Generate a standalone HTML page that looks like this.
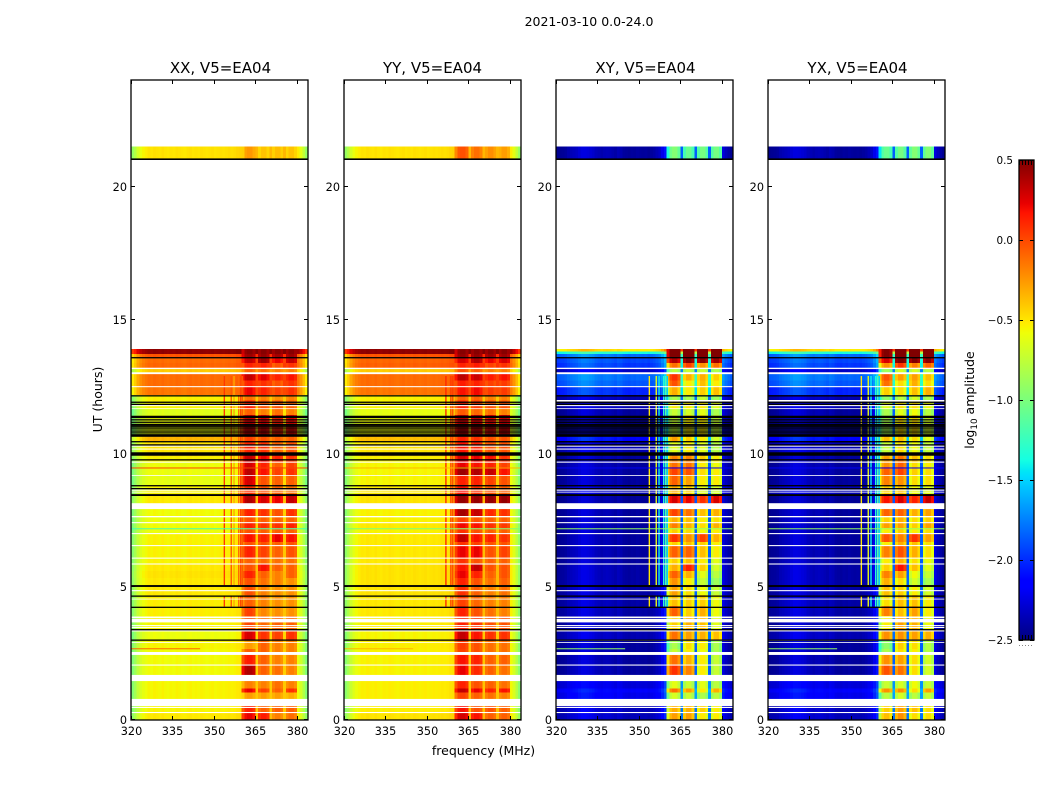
<!DOCTYPE html>
<html lang="en">
<head>
<meta charset="utf-8">
<title>2021-03-10 0.0-24.0 amplitude waterfall</title>
<style>
html,body{margin:0;padding:0;background:#fff;width:1050px;height:800px;overflow:hidden}
svg{display:block}
text{font-family:"DejaVu Sans","Liberation Sans",sans-serif;fill:#000}
</style>
</head>
<body>
<svg id="chart" xmlns="http://www.w3.org/2000/svg" width="1050" height="800" viewBox="0 0 1050 800">
  <defs><linearGradient id="jetGrad" x1="0" y1="1" x2="0" y2="0"></linearGradient></defs>
  <rect x="0" y="0" width="1050" height="800" fill="#fff"/>
  <text x="589" y="26" font-size="12.5" text-anchor="middle">2021-03-10 0.0-24.0</text>
  <text x="0" y="0" font-size="12.5" text-anchor="middle" transform="translate(102,399.5) rotate(-90)">UT (hours)</text>
  <text x="483.5" y="755" font-size="12.5" text-anchor="middle">frequency (MHz)</text>
  <text x="0" y="0" font-size="12.5" text-anchor="middle" transform="translate(974,400) rotate(-90)">log<tspan font-size="8.8" dy="3">10</tspan><tspan dy="-3"> amplitude</tspan></text>
  <g id="panels"></g>
  <g id="colorbar"></g>
</svg>
<script>
// ---------- chart data ----------
const panelTitles = ["XX, V5=EA04", "YY, V5=EA04", "XY, V5=EA04", "YX, V5=EA04"];
const xTickLabels = [320, 335, 350, 365, 380];
const yTickLabels = [0, 5, 10, 15, 20];
const colorbarTicks = [0.5, 0.0, -0.5, -1.0, -1.5, -2.0, -2.5];
const freqMin = 320, freqMax = 384, utMax = 24, colorMin = -2.5, colorMax = 0.5;
const channels = [320,321,322,323,324,325,326,327,328,329,330,331,332,333,334,335,336,337,338,339,340,341,342,343,344,345,346,347,348,349,350,351,352,353,354,355,356,357,358,359,360,361,362,363,364,365,366,367,368,369,370,371,372,373,374,375,376,377,378,379,380,381,382,383];
const subbandFirst = [360, 366, 371, 376];
const subbandLast = [364, 369, 374, 379];
// channel shape added to the block level (log10 amplitude)
const parallelShape = [-.4,-.3,-.18,-.1,-.05,-.02,.01,0,.02,.01,0,.02,0,-.01,.01,0,.02,.01,0,-.01,.01,.02,0,.01,0,.02,.01,0,.01,.02,0,.01,.02,.01,.02,.03,.02,.03,.05,.06,-.15,0,.03,.03,-.03,.15,-.03,.03,.03,-.03,.15,-.03,.03,.03,-.03,.15,-.03,.03,.03,-.03,-.02,-.12,-.25,-.4];
const crossShape = [-.06,-.05,-.04,-.02,.02,.04,.06,.08,.12,.15,.15,.14,.12,.1,.06,.04,.02,.04,.05,.04,.02,0,.04,.02,-.02,-.03,-.04,-.02,-.03,-.01,-.02,-.03,-.02,-.04,-.02,0,.04,.08,.18,.32,-.2,.1,.18,.18,.05,.55,.05,.18,.18,.05,.55,.05,.18,.18,.05,.55,.05,.18,.18,.05,.15,.06,0,-.05];
// top edge of every time block, UT hours, descending
const blockEdges = [21.51,21.06,13.91,13.81,13.72,13.57,13.38,13.16,12.97,12.74,12.48,12.18,11.99,11.69,11.43,10.64,10.46,10.04,9.89,9.67,9.48,9.18,8.81,8.47,8.13,7.91,7.61,7.42,7.20,7.01,6.67,6.52,6.07,5.85,5.59,5.32,5.06,4.69,4.27,3.90,3.37,3.00,2.66,2.44,2.05,1.69,1.46,1.19,1.04,.79,.52,.30,0];
// each row: [off-band, subband 1, subband 2, subband 3, subband 4]
const xxLevels = [[-.5,-.28,-.42,-.4,-.42],null,[.45,.45,.45,.45,.45],[.45,.45,.45,.45,.45],[-.05,.4,.42,.38,.4],[-.12,.3,.4,.2,.3],[-.1,.1,.1,-.05,.05],[-.42,-.1,-.15,-.2,-.2],[-.12,.3,.22,.1,.15],[-.12,.1,.05,-.05,.05],[-.15,.2,.1,0,.05],[-.55,-.15,-.2,-.25,-.2],[-.55,.1,-.05,-.05,-.1],[-.65,-.1,-.2,-.15,-.2],[-.6,.25,.2,.12,.18],[-.35,0,-.05,-.1,-.1],[-.5,.1,.05,-.1,-.05],[-.5,.3,.2,.1,.1],[-.55,.3,.2,.1,.05],[-.6,.25,.1,-.1,0],[-.6,.32,.15,0,.05],[-.62,.25,-.05,-.1,-.1],[-.55,.05,-.05,-.1,-.15],[-.52,.35,.25,.2,.3],[-.52,.35,.25,.2,.3],[-.58,.1,.05,-.05,.05],[-.6,-.05,-.1,-.1,-.1],[-.58,.1,.05,.05,.1],[-.6,-.05,-.1,-.1,-.1],[-.55,.15,.1,.2,.15],[-.55,-.05,-.05,-.1,-.05],[-.55,.1,0,-.1,-.05],[-.55,-.1,-.12,-.15,-.15],[-.52,-.05,.15,-.1,-.1],[-.5,.1,-.1,-.2,-.1],[-.52,-.05,-.15,-.2,-.25],[-.52,-.05,-.2,-.25,-.25],[-.54,-.1,-.2,-.25,-.25],[-.54,0,-.22,-.25,-.25],[-.56,-.02,-.12,-.1,-.1],[-.6,.25,.05,0,.05],[-.56,-.3,-.1,-.2,-.2],[-.58,-.1,-.1,-.2,-.2],[-.58,.12,-.1,-.2,-.2],[-.58,.35,-.1,-.15,-.2],[-.58,.35,-.1,-.15,-.2],[-.56,-.2,-.2,-.15,-.2],[-.56,.2,0,-.1,.05],[-.56,-.3,-.3,-.3,-.35],[-.56,-.3,-.3,-.3,-.35],[-.56,.1,-.1,-.1,-.1],[-.52,.2,.12,-.2,-.15]];
const yyLevels = [[-.5,-.05,-.15,-.25,-.3],null,[.45,.45,.45,.45,.45],[.45,.45,.45,.45,.45],[-.05,.42,.42,.4,.4],[-.1,.25,.35,.2,.25],[-.08,.1,.12,0,.05],[-.42,-.05,-.1,-.2,-.2],[-.12,.32,.28,.12,.15],[-.12,.12,.1,0,.02],[-.15,.15,.18,.02,.02],[-.55,-.1,-.1,-.2,-.2],[-.55,.1,.02,-.05,-.05],[-.62,-.08,-.12,-.15,-.2],[-.6,.3,.25,.18,.25],[-.38,.1,.05,-.05,-.05],[-.5,.15,.1,-.05,-.05],[-.5,.3,.25,.2,.1],[-.55,.25,.2,.15,.05],[-.56,.2,.15,.1,0],[-.56,.4,.35,.3,.15],[-.56,.1,.1,0,-.05],[-.52,.15,.05,-.05,-.1],[-.5,.42,.42,.42,.42],[-.5,.42,.42,.42,.42],[-.55,.38,.3,.08,.05],[-.55,0,-.05,-.1,-.1],[-.52,.18,.15,.05,.02],[-.55,.05,-.05,-.1,-.1],[-.52,.3,.15,.1,.05],[-.52,.05,0,-.05,-.05],[-.52,.2,.2,-.05,0],[-.52,.05,-.05,-.1,-.1],[-.5,.15,.3,-.05,-.05],[-.5,.2,.1,-.1,-.05],[-.5,.1,-.05,-.15,-.1],[-.5,.05,-.1,-.2,-.15],[-.52,0,-.12,-.2,-.2],[-.52,.1,-.05,-.15,-.2],[-.54,.1,.05,-.05,-.05],[-.56,.3,.15,.05,.05],[-.54,.02,-.05,-.15,-.15],[-.55,0,-.05,-.15,-.15],[-.55,.15,.1,-.1,-.1],[-.55,.2,.08,-.1,-.15],[-.55,.2,.08,-.1,-.15],[-.54,.1,-.05,-.1,-.15],[-.54,.3,.2,.1,.15],[-.54,0,-.1,-.15,-.2],[-.54,0,-.1,-.15,-.2],[-.54,.15,-.05,-.05,-.1],[-.5,.25,.15,-.1,-.1]];
const xyLevels = [[-2.4,-1.15,-1.25,-1.2,-1.2],null,[-.5,.45,.45,.45,.45],[-1.35,.45,.45,.45,.45],[-1.8,.45,.45,.45,.45],[-1.9,.2,.35,.3,.25],[-1.95,-.3,-.15,-.4,-.3],[-2.3,-.95,-.9,-.9,-1],[-1.8,-.1,-.5,-.5,-.6],[-1.85,-.2,-.7,-.55,-.7],[-2,-.5,-.7,-.6,-.55],[-2.35,-1,-1,-.9,-1.05],[-2.35,-.7,-.7,-.7,-.8],[-2.4,-.9,-.85,-.8,-1],[-2.4,-.9,-.7,-.7,-.9],[-2.1,-.45,-.6,-.7,-.85],[-2.35,-.8,-.7,-.8,-.95],[-2.4,-.4,-.4,-.6,-.7],[-2.4,-.35,-.35,-.6,-.7],[-2.4,-.3,-.3,-.7,-.75],[-2.4,-.15,-.2,-.65,-.7],[-2.4,-.25,-.45,-.7,-.7],[-2.35,-.5,-.6,-.8,-.85],[-2.42,.1,.05,-.1,.1],[-2.42,.1,.05,-.1,.1],[-2.4,-.15,-.3,-.55,-.5],[-2.4,-.5,-.55,-.7,-.65],[-2.4,-.35,-.5,-.65,-.5],[-2.4,-.6,-.65,-.75,-.7],[-2.4,-.1,-.4,-.15,-.5],[-2.4,-.6,-.55,-.6,-.7],[-2.4,-.25,-.25,-.55,-.7],[-2.4,-.6,-.55,-.7,-.8],[-2.38,-.5,-.05,-.6,-.85],[-2.38,-.25,-.5,-.8,-.95],[-2.38,-.4,-.7,-.9,-1.05],[-2.38,-.45,-.65,-.75,-.9],[-2.38,-.55,-.6,-.6,-.75],[-2.38,-.25,-.6,-.5,-.75],[-2.4,-.6,-.5,-.55,-.8],[-2.35,-.3,-.45,-.5,-.55],[-2.4,-1,-.65,-.7,-1],[-2.4,-.9,-.7,-.75,-1],[-2.4,-.3,-.5,-.7,-.9],[-2.4,-.1,-.35,-.7,-.9],[-2.4,-.1,-.35,-.7,-.9],[-2.25,-.8,-.9,-.8,-.95],[-2.15,-.3,-.45,-.7,-.5],[-2.2,-.85,-.9,-1,-.95],[-2.2,-.85,-.9,-1,-.95],[-2.33,-.5,-.5,-.6,-.7],[-2.33,-.45,-.45,-.7,-.7]];
const yxSubbandDelta = [0, -.1, .05, .05, .05];
// flagged (no data) intervals, [top UT, bottom UT]
const whiteBands = [[13.21,13.16],[13.04,12.97],[12.52,12.48],[11.81,11.77],[11.69,11.66],[10.29,10.25],[10.18,10.14],[9.69,9.65],[9.18,9.15],[8.64,8.60],[8.56,8.53],[8.13,7.91],[7.65,7.60],[7.42,7.38],[7.01,6.97],[6.56,6.52],[6.09,6.05],[5.87,5.83],[4.87,4.83],[4.55,4.52],[3.88,3.82],[3.79,3.66],[3.56,3.52],[3.49,3.45],[3.37,3.32],[2.92,2.89],[2.55,2.44],[2.08,2.04],[1.69,1.46],[.79,.52],[.49,.45],[.30,.26]];
const crossWhiteBands = [[12.0,11.94],[3.02,2.97]];
const blackBands = [[21.06,21.0],[13.61,13.57],[12.18,12.14],[11.94,11.90],[11.86,11.83],[11.41,11.32],[11.28,11.24],[11.19,11.16],[11.11,11.08],[11.06,11.03],[11.01,10.98],[10.94,10.91],[10.86,10.83],[10.79,10.76],[10.72,10.62],[10.46,10.42],[10.34,10.31],[10.04,9.91],[9.78,9.75],[8.81,8.77],[8.70,8.66],[8.47,8.40],[5.06,4.99],[4.67,4.63],[4.25,4.22],[3.41,3.37],[3.02,2.98]];
// narrow interference channels
const rfiFreqs = [353.5, 356, 357, 358.7, 359.4, 360];
const rfiFreqsYY = [356.6, 358.4, 359.1];
const rfiParallel = [.05, -.05, -.3, -.1, 0, -.05];
const rfiYY = [.1, .05, .05];
const rfiCross = [-.5, -.6, -1.4, -1.3, -1.2, -1.5];
const rfiSegments = [[12.9,5.06],[4.67,4.25]];
// short-lived horizontal events
const eventUT = [9.47, 7.19, 2.69];
const eventFreqEnd = [384, 384, 345];
const eventXX = [0, -1.2, -.1];
const eventYY = [-.35, -1, -.35];
const eventXY = [-2.2, -.9, -.9];
const eventYX = [-2.2, -.9, -.9];

// ---------- layout ----------
const NS = "http://www.w3.org/2000/svg";
const panelLeft = [131, 344, 556, 768];
const panelTitleNudge = [1, 0, 1, 1];
const panelWidth = 177, panelTop = 80, panelBottom = 720;
const cbLeft = 1019, cbRight = 1034, cbTop = 160, cbBottom = 640;
const xScale = (p, f) => panelLeft[p] + (f - freqMin) / (freqMax - freqMin) * panelWidth;
const yScale = t => panelBottom - t / utMax * (panelBottom - panelTop);
const cbScale = v => cbBottom - (v - colorMin) / (colorMax - colorMin) * (cbBottom - cbTop);

function ramp(t, pts) {
  for (let i = 1; i < pts.length; i++) {
    if (t <= pts[i][0]) {
      const a = pts[i - 1], b = pts[i];
      return a[1] + (b[1] - a[1]) * (t - a[0]) / (b[0] - a[0]);
    }
  }
  return pts[pts.length - 1][1];
}
function jet(v) {
  const t = Math.min(1, Math.max(0, (v - colorMin) / (colorMax - colorMin)));
  const r = ramp(t, [[0,0],[.35,0],[.66,1],[.89,1],[1,.5]]);
  const g = ramp(t, [[0,0],[.125,0],[.375,1],[.64,1],[.91,0],[1,0]]);
  const b = ramp(t, [[0,.5],[.11,1],[.34,1],[.65,0],[1,0]]);
  return "rgb(" + Math.round(r * 255) + "," + Math.round(g * 255) + "," + Math.round(b * 255) + ")";
}
function mk(parent, tag, attrs) {
  const el = document.createElementNS(NS, tag);
  for (const k in attrs) el.setAttribute(k, attrs[k]);
  parent.appendChild(el);
  return el;
}
function subbandIndex(f) {
  for (let i = 0; i < subbandFirst.length; i++) {
    if (f >= subbandFirst[i] && f <= subbandLast[i]) return i;
  }
  return -1;
}
const panelRows = [xxLevels, yyLevels, xyLevels, xyLevels.map(r => r && r.map((v, i) => v + yxSubbandDelta[i]))];
const panelShape = [parallelShape, parallelShape, crossShape, crossShape];
const panelRfi = [rfiParallel, rfiYY, rfiCross, rfiCross];
const panelRfiFreqs = [rfiFreqs, rfiFreqsYY, rfiFreqs, rfiFreqs];
const panelEvents = [eventXX, eventYY, eventXY, eventYX];

const panelsRoot = document.getElementById("panels");
panelTitles.forEach((title, p) => {
  const g = mk(panelsRoot, "g", {});
  
  
  const cells = mk(g, "g", {"shape-rendering": "crispEdges"});
  
  
  panelRows[p].forEach((row, r) => {
    if (!row) return;
    const y0 = yScale(blockEdges[r]), y1 = yScale(blockEdges[r + 1]);
    channels.forEach((f, c) => {
      const s = subbandIndex(f);
      const v = (s >= 0 ? row[s + 1] : row[0]) + panelShape[p][c];
      const x0 = xScale(p, f), x1 = xScale(p, f + 1);
      const cell = mk(cells, "rect", {x: x0.toFixed(2), y: y0.toFixed(2), width: (x1 - x0).toFixed(2), height: (y1 - y0).toFixed(2), fill: jet(v)});
      
      
    });
  });
  panelRfiFreqs[p].forEach((f, i) => {
    rfiSegments.forEach(seg => {
      const line = mk(g, "rect", {x: xScale(p, f).toFixed(2), y: yScale(seg[0]).toFixed(2), width: (xScale(p, f + .5) - xScale(p, f)).toFixed(2), height: (yScale(seg[1]) - yScale(seg[0])).toFixed(2), fill: jet(panelRfi[p][i])});
      
      
    });
  });
  eventUT.forEach((t, i) => {
    const ev = mk(g, "rect", {x: xScale(p, freqMin), y: yScale(t).toFixed(2), width: (xScale(p, eventFreqEnd[i]) - xScale(p, freqMin)).toFixed(2), height: 1, fill: jet(panelEvents[p][i])});
    
    
  });
  const whites = p >= 2 ? whiteBands.concat(crossWhiteBands) : whiteBands;
  whites.forEach(b => {
    const w = mk(g, "rect", {x: panelLeft[p], y: yScale(b[0]).toFixed(2), width: panelWidth, height: (yScale(b[1]) - yScale(b[0])).toFixed(2), fill: "#fff"});
    
    
  });
  blackBands.forEach(b => {
    const k = mk(g, "rect", {x: panelLeft[p], y: yScale(b[0]).toFixed(2), width: panelWidth, height: Math.max(1.3, yScale(b[1]) - yScale(b[0])).toFixed(2), fill: "#000"});
    
    
  });
  const frame = mk(g, "rect", {x: panelLeft[p], y: panelTop, width: panelWidth, height: panelBottom - panelTop, fill: "none", stroke: "#000", "stroke-width": 1.3});
  
  
  const ticks = [];
  xTickLabels.forEach(f => {
    const x = Math.round(xScale(p, f)) + .5;
    ticks.push("M" + x + " " + panelBottom + "v-4M" + x + " " + panelTop + "v4");
    const lab = mk(g, "text", {x: x, y: panelBottom + 15, "font-size": 11.25, "text-anchor": "middle"});
    lab.textContent = f;
    
    
  });
  yTickLabels.forEach(t => {
    const y = Math.floor(yScale(t) - .01) + .5;
    const x0 = panelLeft[p], x1 = panelLeft[p] + panelWidth;
    ticks.push("M" + x0 + " " + y + "h4M" + x1 + " " + y + "h-4");
    const lab = mk(g, "text", {x: x0 - 4, y: y + 4.5, "font-size": 11.25, "text-anchor": "end"});
    lab.textContent = t;
    
    
  });
  const tickPath = mk(g, "path", {d: ticks.join(""), stroke: "#000", "stroke-width": 1, fill: "none"});
  
  
  const ttl = mk(g, "text", {x: panelLeft[p] + panelWidth / 2 + panelTitleNudge[p], y: 73, "font-size": 15, "text-anchor": "middle"});
  ttl.textContent = title;
  
  
});

// ---------- colorbar ----------
const grad = document.getElementById("jetGrad");
[0,.05,.11,.125,.2,.34,.35,.375,.5,.64,.65,.66,.75,.89,.91,1].forEach(t => {
  mk(grad, "stop", {offset: t, "stop-color": jet(colorMin + t * (colorMax - colorMin))});
});
const cb = document.getElementById("colorbar");
const cbFill = mk(cb, "rect", {x: cbLeft, y: cbTop, width: cbRight - cbLeft, height: cbBottom - cbTop, fill: "url(#jetGrad)"});


const cbFrame = mk(cb, "rect", {x: cbLeft, y: cbTop, width: cbRight - cbLeft, height: cbBottom - cbTop, fill: "none", stroke: "#000", "stroke-width": 1.3});


const cbTickPaths = [];
colorbarTicks.forEach(v => {
  const y = Math.floor(cbScale(v)) + .5;
  cbTickPaths.push("M" + cbLeft + " " + y + "h4M" + cbRight + " " + y + "h-4");
  const lab = mk(cb, "text", {x: cbLeft - 6, y: y + 3.5, "font-size": 10.4, "text-anchor": "end"});
  lab.textContent = v.toFixed(1).replace("-", "\u2212");
  
  
});
for (let x = cbLeft + .5; x <= cbRight; x += 3) {
  cbTickPaths.push("M" + x + " " + cbBottom + "v-5M" + x + " " + cbTop + "v5");
  const dot = mk(cb, "rect", {x: x - .5, y: cbBottom + 5, width: 1, height: 1, fill: "#888"});
  
  
}
const cbTicks = mk(cb, "path", {d: cbTickPaths.join(""), stroke: "#000", "stroke-width": 1, fill: "none"});


</script>
</body>
</html>
